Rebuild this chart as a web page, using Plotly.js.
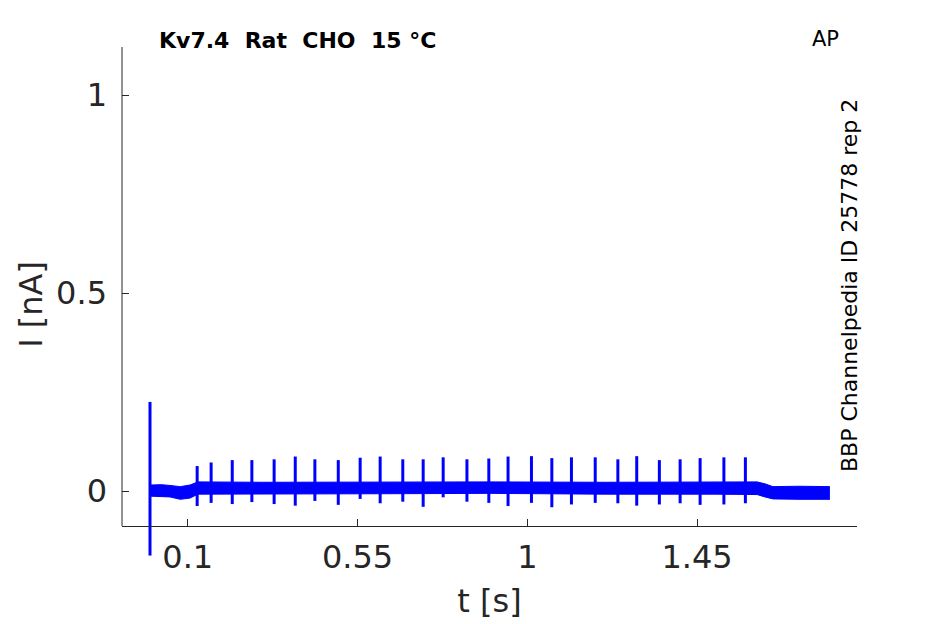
<!DOCTYPE html>
<html>
<head>
<meta charset="utf-8">
<script src="https://cdn.plot.ly/plotly-3.0.1.min.js"></script>
<style>html,body{margin:0;padding:0;background:#fff;}#chart{width:945px;height:624px;}</style>
</head>
<body>
<div id="chart"></div>
<script>
// Spike (transient / AP-evoked current) times [s], peak and trough values [nA]
const spikeTimes = [0.000, 0.125, 0.162, 0.218, 0.270, 0.329, 0.385, 0.437, 0.499, 0.557,
  0.610, 0.670, 0.724, 0.777, 0.840, 0.898, 0.949, 1.011, 1.065, 1.117,
  1.180, 1.240, 1.290, 1.350, 1.405, 1.458, 1.521, 1.578];
const spikePeaks = [0.225, 0.063, 0.072, 0.078, 0.078, 0.080, 0.087, 0.080, 0.078, 0.084,
  0.087, 0.080, 0.080, 0.085, 0.080, 0.082, 0.087, 0.088, 0.083, 0.085,
  0.085, 0.080, 0.088, 0.078, 0.080, 0.083, 0.085, 0.085];
const spikeTroughs = [-0.163, -0.038, -0.030, -0.033, -0.028, -0.033, -0.037, -0.025, -0.035, -0.020,
  -0.031, -0.027, -0.040, -0.016, -0.027, -0.030, -0.038, -0.030, -0.041, -0.034,
  -0.030, -0.031, -0.037, -0.034, -0.031, -0.035, -0.034, -0.031];

// Baseline noise band of the recorded current [nA]
const bandTimes = [0.000, 0.030, 0.053, 0.080, 0.106, 0.127, 0.300, 0.600, 0.900, 1.200, 1.500, 1.609, 1.630, 1.651, 1.720, 1.802];
const bandUpper = [0.015, 0.016, 0.014, 0.011, 0.015, 0.023, 0.022, 0.023, 0.023, 0.022, 0.022, 0.023, 0.018, 0.011, 0.012, 0.011];
const bandLower = [-0.013, -0.014, -0.015, -0.021, -0.018, -0.008, -0.008, -0.007, -0.006, -0.008, -0.008, -0.009, -0.015, -0.020, -0.021, -0.021];

const xTicks = [0.1, 0.55, 1, 1.45];
const xTickLabels = ['0.1', '0.55', '1', '1.45'];
const yTicks = [0, 0.5, 1];
const yTickLabels = ['0', '0.5', '1'];

const BLUE = '#0000ff';
const AX = '#262626';
const FONT = 'DejaVu Sans, sans-serif';

// Build spike segments (vertical strokes)
const sx = [], sy = [];
spikeTimes.forEach((t, i) => {
  sx.push(t, t, null);
  sy.push(spikePeaks[i], spikeTroughs[i], null);
});

const traces = [
  {x: bandTimes, y: bandLower, mode: 'lines', line: {width: 1, color: BLUE}, hoverinfo: 'skip', showlegend: false},
  {x: bandTimes, y: bandUpper, mode: 'lines', line: {width: 1, color: BLUE}, fill: 'tonexty', fillcolor: BLUE, hoverinfo: 'skip', showlegend: false},
  {x: sx, y: sy, mode: 'lines', line: {width: 3, color: BLUE}, connectgaps: false, hoverinfo: 'skip', showlegend: false}
];

const gh = 624 - 47 - 62;
const axisPos = (562 - 526) / gh;

const layout = {
  width: 945, height: 624,
  margin: {l: 122, r: 88, t: 47, b: 62},
  paper_bgcolor: '#fff', plot_bgcolor: '#fff',
  showlegend: false,
  hovermode: false,
  xaxis: {
    range: [-0.0742, 1.8738],
    anchor: 'free', position: axisPos,
    showgrid: false, zeroline: false,
    showline: true, linecolor: AX, linewidth: 1,
    ticks: 'inside', ticklen: 7, tickcolor: AX, tickwidth: 1,
    tickmode: 'array', tickvals: xTicks, ticktext: xTickLabels,
    tickfont: {family: FONT, size: 32, color: AX},
    ticklabelstandoff: 3,
    title: {text: 't [s]', font: {family: FONT, size: 32, color: AX}, standoff: 14}
  },
  yaxis: {
    range: [-0.1793, 1.1212],
    showgrid: false, zeroline: false,
    showline: false,
    ticks: 'inside', ticklen: 7, tickcolor: AX, tickwidth: 1,
    tickmode: 'array', tickvals: yTicks, ticktext: yTickLabels,
    tickfont: {family: FONT, size: 32, color: AX},
    ticklabelstandoff: 14,
    title: {text: 'I [nA]', font: {family: FONT, size: 32, color: AX}, standoff: 3}
  },
  shapes: [
    {type: 'line', xref: 'paper', yref: 'paper', x0: 0, x1: 0, y0: axisPos, y1: 1, line: {color: AX, width: 1}}
  ],
  annotations: [
    {text: '<b>Kv7.4\u00a0\u00a0Rat\u00a0\u00a0CHO\u00a0\u00a015\u00a0°C</b>', xref: 'paper', yref: 'paper',
     x: (157 - 122) / 735, y: (562 - 40) / gh, xanchor: 'left', yanchor: 'middle', showarrow: false,
     font: {family: FONT, size: 22, color: '#000'}},
    {text: 'AP', xref: 'paper', yref: 'paper', x: (825 - 122) / 735, y: (562 - 39) / gh,
     xanchor: 'center', yanchor: 'middle', showarrow: false, font: {family: FONT, size: 21, color: '#000'}},
    {text: 'BBP Channelpedia ID 25778 rep 2', xref: 'paper', yref: 'paper', x: (849 - 122) / 735, y: (562 - 286) / gh,
     xanchor: 'center', yanchor: 'middle', textangle: -90, showarrow: false, font: {family: FONT, size: 22, color: '#000'}}
  ]
};

Plotly.newPlot('chart', traces, layout, {displayModeBar: false, staticPlot: true});
</script>
</body>
</html>
